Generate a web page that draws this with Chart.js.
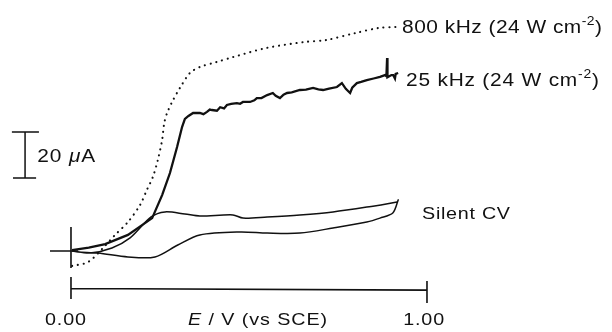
<!DOCTYPE html>
<html>
<head>
<meta charset="utf-8">
<script src="https://cdn.jsdelivr.net/npm/chart.js@4.4.1/dist/chart.umd.min.js"></script>
<style>
  html, body { margin: 0; padding: 0; background: #fff; }
  #wrap { width: 612px; height: 332px; }
</style>
</head>
<body>
<div id="wrap"><canvas id="cv"></canvas></div>
<script>
/* ===================== DATOS (E / V vs SCE, I / uA) ===================== */
const e800 = [0.003, 0.048, 0.09, 0.124, 0.16, 0.194, 0.213, 0.23, 0.244, 0.256, 0.262, 0.27, 0.284, 0.306, 0.334, 0.362, 0.41, 0.455, 0.55, 0.657, 0.716, 0.8, 0.865, 0.913];
const i800 = [-6.5, -4.8, 1.3, 7.0, 12.6, 20, 26.5, 32.2, 39.6, 48.3, 55.7, 60, 64.8, 70.9, 77.4, 80, 82.2, 84.3, 88.3, 90.9, 91.7, 94.8, 97, 97.4];

const e25 = [0.003, 0.05, 0.096, 0.16, 0.228, 0.256, 0.278, 0.298, 0.312, 0.32, 0.33, 0.343, 0.362, 0.372, 0.382, 0.39, 0.396, 0.41, 0.419, 0.43, 0.438, 0.45, 0.466, 0.475, 0.483, 0.503, 0.515, 0.522, 0.535, 0.551, 0.567, 0.575, 0.587, 0.597, 0.607, 0.62, 0.643, 0.66, 0.68, 0.695, 0.708, 0.725, 0.747, 0.761, 0.772, 0.784, 0.79, 0.803, 0.815, 0.831, 0.85, 0.868, 0.882, 0.886, 0.888, 0.889, 0.9, 0.905, 0.91, 0.912, 0.919];
const i25 = [0.4, 1.5, 3.0, 7.0, 14.3, 24.3, 33.9, 45.2, 53.9, 57.4, 58.7, 60, 60, 59.5, 60.5, 61.5, 61.3, 61, 62.5, 62, 63.5, 64, 64.3, 64, 64.8, 64.8, 65.5, 66.5, 66.5, 67.8, 68.7, 67.5, 66.5, 68, 68.7, 69, 70, 70.2, 70.9, 70.3, 70, 70.6, 71.3, 73, 70.5, 68.7, 71, 73, 73.5, 74.3, 75, 75.7, 76.5, 76, 83.9, 75.5, 76.5, 76.5, 75, 77, 77.4];

const eSilent = [0.003, 0.053, 0.115, 0.166, 0.225, 0.264, 0.32, 0.362, 0.455, 0.483, 0.551, 0.643, 0.736, 0.831, 0.916, 0.919, 0.904, 0.868, 0.831, 0.736, 0.643, 0.551, 0.475, 0.362, 0.30, 0.236, 0.16, 0.076, 0.02, 0.003];
const iSilent = [0, -0.9, 1.3, 5.7, 14.8, 17.0, 16.1, 15.2, 15.7, 14.3, 14.8, 15.7, 17.0, 19.1, 21.3, 22.2, 16.5, 14.3, 12.6, 10.0, 7.8, 7.8, 8.3, 7.0, 2.6, -2.6, -2.6, -0.9, -0.4, 0];

const etiquetas = {
  alta: ["800 kHz (24 W cm", "-2", ")"],
  baja: ["25 kHz (24 W cm", "-2", ")"],
  silent: "Silent CV",
  barra: ["20 ", "\u03bc", "A"],
  ejeX: ["E", " / V (vs SCE)"],
  tick0: "0.00",
  tick1: "1.00",
};

const pares = (xs, ys) => xs.map((x, k) => ({ x, y: ys[k] }));

/* ===================== TEXTO ANCHO (tipo Helvetica expandida) ===================== */
const FUENTE = '"Liberation Sans", Arial, sans-serif';
const ESTIRAR = 1.16;
function fuente(p) {
  return `${p.italic ? "italic " : ""}${p.size}px ${FUENTE}`;
}
function textoRico(ctx, partes, x, y, ancho) {
  let natural = 0, n = 0;
  partes.forEach((p) => {
    ctx.font = fuente(p);
    natural += ctx.measureText(p.t).width * ESTIRAR;
    n += [...p.t].length;
  });
  const sp = n > 1 ? (ancho - natural) / (n - 1) : 0;
  let cx = x;
  partes.forEach((p) => {
    ctx.font = fuente(p);
    for (const ch of p.t) {
      ctx.save();
      ctx.translate(cx, y - (p.dy || 0));
      ctx.scale(ESTIRAR, 1);
      ctx.fillText(ch, 0, 0);
      ctx.restore();
      cx += ctx.measureText(ch).width * ESTIRAR + sp;
    }
  });
}

/* ===================== EJES Y ANOTACIONES ===================== */
const anotaciones = {
  id: "anotaciones",
  afterDatasetsDraw(chart) {
    const { ctx } = chart;
    const X = (v) => chart.scales.x.getPixelForValue(v);
    const Y = (v) => chart.scales.y.getPixelForValue(v);
    ctx.save();
    ctx.strokeStyle = "#111";
    ctx.fillStyle = "#111";
    ctx.lineCap = "butt";

    // eje de potencial
    ctx.lineWidth = 1.6;
    ctx.beginPath();
    ctx.moveTo(X(0), Y(-16.3));
    ctx.lineTo(X(1), Y(-17.0));
    ctx.moveTo(X(0), Y(-11.3));
    ctx.lineTo(X(0), Y(-20.9));
    ctx.moveTo(X(1), Y(-13.0));
    ctx.lineTo(X(1), Y(-22.6));
    ctx.stroke();

    // cruz del origen
    ctx.beginPath();
    ctx.moveTo(X(0), Y(10.4));
    ctx.lineTo(X(0), Y(-7.4));
    ctx.moveTo(X(-0.059), Y(0));
    ctx.lineTo(X(0.02), Y(0));
    ctx.stroke();

    // barra de escala 20 uA
    const xb = X(-0.129);
    ctx.lineWidth = 1.5;
    ctx.beginPath();
    ctx.moveTo(xb, Y(51.7));
    ctx.lineTo(xb, Y(31.7));
    ctx.moveTo(X(-0.166), Y(51.7));
    ctx.lineTo(X(-0.09), Y(51.7));
    ctx.moveTo(X(-0.163), Y(31.7));
    ctx.lineTo(X(-0.098), Y(31.7));
    ctx.stroke();

    ctx.textBaseline = "alphabetic";
    const a = etiquetas.alta, b = etiquetas.baja;
    textoRico(ctx, [{ t: a[0], size: 18 }, { t: a[1], size: 12, dy: 8 }, { t: a[2], size: 18 }], X(0.93), Y(94.8), 200);
    textoRico(ctx, [{ t: b[0], size: 18 }, { t: b[1], size: 12, dy: 8 }, { t: b[2], size: 18 }], X(0.941), Y(71.7), 193);
    textoRico(ctx, [{ t: etiquetas.silent, size: 17 }], X(0.986), Y(13.9), 88);
    const br = etiquetas.barra;
    textoRico(ctx, [{ t: br[0], size: 18 }, { t: br[1], size: 18, italic: true }, { t: br[2], size: 18 }], X(-0.095), Y(38.7), 58);
    textoRico(ctx, [{ t: etiquetas.tick0, size: 17 }], X(-0.073), Y(-32.2), 41);
    textoRico(ctx, [{ t: etiquetas.tick1, size: 17 }], X(0.933), Y(-32.2), 41);
    const ex = etiquetas.ejeX;
    textoRico(ctx, [{ t: ex[0], size: 17, italic: true }, { t: ex[1], size: 17 }], X(0.329), Y(-32.2), 139);
    ctx.restore();
  },
};

/* ===================== GRAFICO ===================== */
new Chart(document.getElementById("cv"), {
  type: "scatter",
  data: {
    datasets: [
      {
        label: "800 kHz",
        data: pares(e800, i800),
        showLine: true,
        borderColor: "#111",
        borderWidth: 2.1,
        borderDash: [0.1, 5.8],
        borderCapStyle: "round",
        pointRadius: 0,
        tension: 0.3,
      },
      {
        label: "25 kHz",
        data: pares(e25, i25),
        showLine: true,
        borderColor: "#111",
        borderWidth: 2.3,
        pointRadius: 0,
        tension: 0,
      },
      {
        label: "Silent CV",
        data: pares(eSilent, iSilent),
        showLine: true,
        borderColor: "#111",
        borderWidth: 1.5,
        pointRadius: 0,
        tension: 0.3,
      },
    ],
  },
  plugins: [anotaciones],
  options: {
    responsive: true,
    maintainAspectRatio: false,
    animation: false,
    layout: { padding: 0 },
    plugins: { legend: { display: false }, tooltip: { enabled: false } },
    scales: {
      x: { type: "linear", display: false, min: -0.1994, max: 1.5197 },
      y: { type: "linear", display: false, min: -35.22, max: 109.13 },
    },
  },
});
</script>
</body>
</html>
